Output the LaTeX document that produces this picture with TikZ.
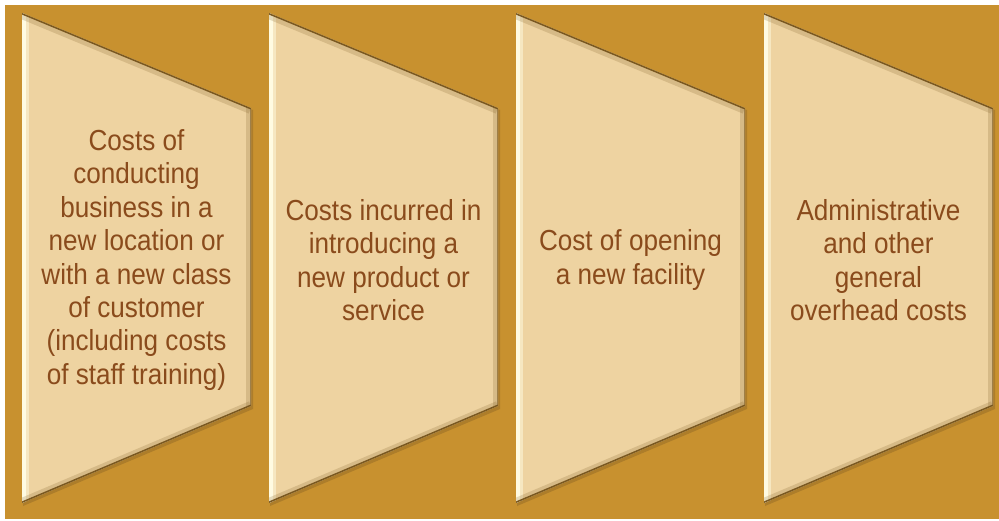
\documentclass[tikz,border=0pt]{standalone}
\usepackage{fontspec}
\setmainfont{Liberation Sans}[FakeStretch=0.9]
\usetikzlibrary{calc}
\definecolor{gold}{HTML}{C8912F}
\definecolor{panel}{HTML}{EED3A1}
\definecolor{ink}{HTML}{8A4B1C}
\definecolor{shine}{HTML}{FFFBE2}
\definecolor{shade}{HTML}{7A5820}
\def\drawshine{\draw[color=shine, line width=7pt]}
\def\drawshade{\draw[color=shade, line width=3pt]}
\def\costnode{\node[text=ink, align=center, font=\fontsize{29}{33.4}\selectfont]}

\begin{document}
\begin{tikzpicture}[x=1pt,y=-1pt]
\useasboundingbox (0,0) rectangle (999,521);
\fill[white] (0,0) rectangle (999,521);
\fill[gold] (5,5) rectangle (999,519);

% ------- the four panels, all relative to their top left corner -------
\foreach \i/\x in {1/22,2/269,3/516,4/764}{
  \coordinate (tl\i) at (\x,13);
  \coordinate (tr\i) at ($ (tl\i) + (229,95) $);
  \coordinate (br\i) at ($ (tl\i) + (229,393) $);
  \coordinate (bl\i) at ($ (tl\i) + (0,490) $);
  \coordinate (c\i) at ($ (tl\i) + (114.5,247) $);
  % drop shadow on the background
  \fill[shade!35!gold] ($ (tl\i) + (1,2) $) -- ($ (tr\i) + (2,2) $)
    -- ($ (br\i) + (2,3) $) -- ($ (bl\i) + (1,3) $) -- cycle;
  \fill[panel] (tl\i) -- (tr\i) -- (br\i) -- (bl\i) -- cycle;
  \begin{scope}
    \clip (tl\i) -- (tr\i) -- (br\i) -- (bl\i) -- cycle;
    \drawshine[opacity=.5, line width=14pt] (tl\i) -- (bl\i); % soft edge
    \drawshine (tl\i) -- (bl\i);
    \drawshade[opacity=.2, line width=12pt] (tl\i) -- (tr\i);
    \drawshade (tl\i) -- (tr\i);
    \drawshade[opacity=.2, line width=10pt] (tr\i) -- (br\i);
    \drawshade[opacity=.6] (tr\i) -- (br\i);
    \drawshade[opacity=.2, line width=10pt] (br\i) -- (bl\i);
    \drawshade (br\i) -- (bl\i);
  \end{scope}
}

% ------- texts -------
\costnode (cost1) at (c1) {Costs of\\conducting\\business in a\\new location or\\with a new class\\of customer\\(including costs\\of staff training)};
\costnode (cost2) at (c2) {Costs incurred in\\introducing a\\new product or\\service};
\costnode (cost3) at (c3) {Cost of opening\\a new facility};
\costnode (cost4) at (c4) {Administrative\\and other\\general\\overhead costs};
\end{tikzpicture}
\end{document}
